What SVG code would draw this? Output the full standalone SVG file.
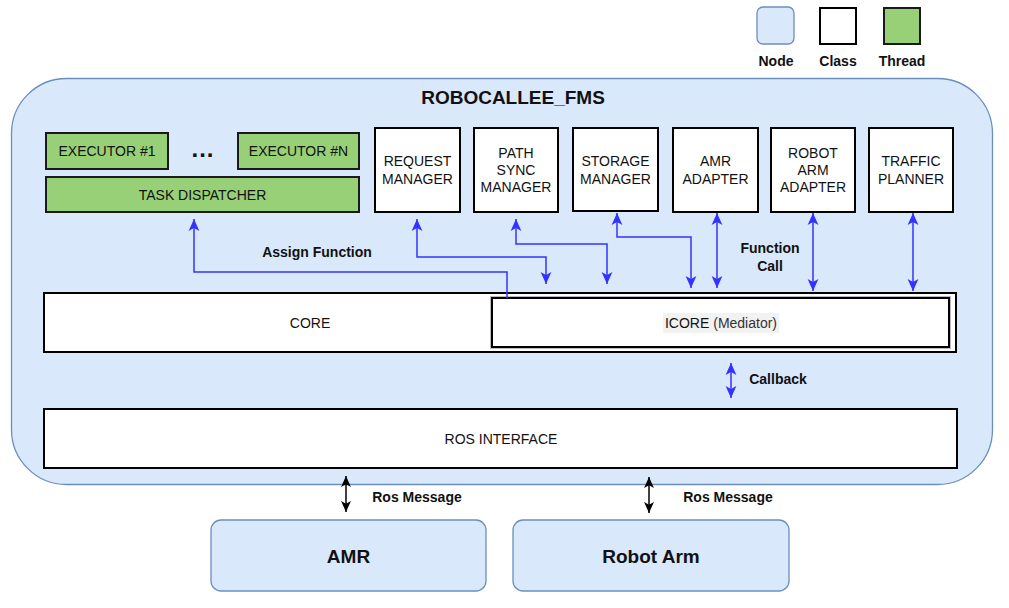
<svg xmlns="http://www.w3.org/2000/svg" width="1009" height="608" viewBox="0 0 1009 608">
<style>
.node{fill:#dae8fc;stroke:#6c8ebf;stroke-width:1.3}
.cls{fill:#ffffff;stroke:#000000;stroke-width:2}
.thr{fill:#97d077;stroke:#1a1a1a;stroke-width:2}
.t{font-family:"Liberation Sans",Arial,sans-serif;font-size:14px;fill:#111;text-anchor:middle;dominant-baseline:central}
.b{font-family:"Liberation Sans",Arial,sans-serif;font-size:14px;font-weight:bold;fill:#111;text-anchor:middle;dominant-baseline:central}
.c{fill:none;stroke:#3333ff;stroke-width:1.5}
.k{fill:none;stroke:#000;stroke-width:1.5}
</style>
<defs>
<marker id="ab" markerUnits="userSpaceOnUse" markerWidth="12" markerHeight="12" viewBox="0 0 10 10" refX="10" refY="5" orient="auto-start-reverse">
<path d="M0,0.5 L10,5 L0,9.5 L2.5,5 Z" fill="#3333ff"/>
</marker>
<marker id="ak" markerUnits="userSpaceOnUse" markerWidth="11" markerHeight="11" viewBox="0 0 10 10" refX="10" refY="5" orient="auto-start-reverse">
<path d="M0,0.5 L10,5 L0,9.5 L2.5,5 Z" fill="#000"/>
</marker>
</defs>

<g id="legend">
<rect class="node" x="757" y="7" width="37" height="37" rx="6"/>
<rect class="cls" x="820" y="8" width="36" height="36"/>
<rect class="thr" x="884" y="8" width="36" height="36"/>
<text class="b" x="776" y="61">Node</text>
<text class="b" x="838" y="61">Class</text>
<text class="b" x="902" y="61">Thread</text>
</g>

<g id="robocallee_fms">
<rect class="node" x="11.5" y="78.5" width="981" height="406" rx="55"/>
<text class="b" x="513" y="97" style="font-size:19px">ROBOCALLEE_FMS</text>
</g>

<g id="executor1">
<rect class="thr" x="46" y="133" width="122" height="36"/>
<text class="t" x="107" y="151">EXECUTOR #1</text>
</g>
<g id="dots">
<text class="b" x="203" y="148" style="font-size:24px;letter-spacing:1px">...</text>
</g>
<g id="executorN">
<rect class="thr" x="238" y="133" width="121" height="36"/>
<text class="t" x="298.5" y="151">EXECUTOR #N</text>
</g>
<g id="task_dispatcher">
<rect class="thr" x="46" y="177" width="313" height="35"/>
<text class="t" x="202.5" y="194.5">TASK DISPATCHER</text>
</g>

<g id="request_manager">
<rect class="cls" x="375" y="128" width="85" height="84"/>
<text class="t" x="417.5" y="161">REQUEST</text>
<text class="t" x="417.5" y="179">MANAGER</text>
</g>
<g id="path_sync_manager">
<rect class="cls" x="474" y="128" width="84" height="84"/>
<text class="t" x="516" y="153">PATH</text>
<text class="t" x="516" y="170">SYNC</text>
<text class="t" x="516" y="187">MANAGER</text>
</g>
<g id="storage_manager">
<rect class="cls" x="573" y="128" width="85" height="83"/>
<text class="t" x="615.5" y="161">STORAGE</text>
<text class="t" x="615.5" y="179">MANAGER</text>
</g>
<g id="amr_adapter">
<rect class="cls" x="673" y="128" width="85" height="84"/>
<text class="t" x="715.5" y="161">AMR</text>
<text class="t" x="715.5" y="179">ADAPTER</text>
</g>
<g id="robot_arm_adapter">
<rect class="cls" x="771" y="128" width="84" height="84"/>
<text class="t" x="813" y="153">ROBOT</text>
<text class="t" x="813" y="170">ARM</text>
<text class="t" x="813" y="187">ADAPTER</text>
</g>
<g id="traffic_planner">
<rect class="cls" x="869" y="128" width="84" height="84"/>
<text class="t" x="911" y="161">TRAFFIC</text>
<text class="t" x="911" y="179">PLANNER</text>
</g>

<g id="core">
<rect class="cls" x="44" y="293" width="912" height="59"/>
<text class="t" x="310" y="323">CORE</text>
</g>
<g id="icore">
<rect x="492" y="298" width="457" height="49" fill="#fff" stroke="#bbb" stroke-width="4"/>
<rect x="492" y="298" width="457" height="49" fill="#fff" stroke="#000" stroke-width="2"/>
<rect x="663" y="313" width="116" height="20" fill="#f2f2f2"/>
<text class="t" x="721" y="323">ICORE <tspan fill="#333">(Mediator)</tspan></text>
</g>

<g id="ros_interface">
<rect class="cls" x="44" y="409" width="913" height="59"/>
<text class="t" x="501" y="439">ROS INTERFACE</text>
</g>

<g id="amr">
<rect class="node" x="211" y="520" width="275" height="71" rx="10"/>
<text class="b" x="348.5" y="556" style="font-size:19px">AMR</text>
</g>
<g id="robot_arm">
<rect class="node" x="513" y="520" width="276" height="71" rx="10"/>
<text class="b" x="651" y="556" style="font-size:19px">Robot Arm</text>
</g>

<g id="connectors">
<path class="c" d="M507,298 V272 H194 V219" marker-end="url(#ab)"/>
<path class="c" d="M417,219 V257 H546 V284" marker-start="url(#ab)" marker-end="url(#ab)"/>
<path class="c" d="M516,219 V244 H607 V284" marker-start="url(#ab)" marker-end="url(#ab)"/>
<path class="c" d="M617,213 V237 H691 V288" marker-start="url(#ab)" marker-end="url(#ab)"/>
<path class="c" d="M717,213 V288" marker-start="url(#ab)" marker-end="url(#ab)"/>
<path class="c" d="M813,213 V291" marker-start="url(#ab)" marker-end="url(#ab)"/>
<path class="c" d="M913,213 V291" marker-start="url(#ab)" marker-end="url(#ab)"/>
<path class="c" d="M731,363 V398" marker-start="url(#ab)" marker-end="url(#ab)"/>
<path class="k" d="M346,476 V512" marker-start="url(#ak)" marker-end="url(#ak)"/>
<path class="k" d="M649,477 V513" marker-start="url(#ak)" marker-end="url(#ak)"/>
<text class="b" x="317" y="252">Assign Function</text>
<text class="b" x="770" y="248">Function</text>
<text class="b" x="770" y="266">Call</text>
<text class="b" x="778" y="379">Callback</text>
<text class="b" x="417" y="497">Ros Message</text>
<text class="b" x="728" y="497">Ros Message</text>
</g>
</svg>
